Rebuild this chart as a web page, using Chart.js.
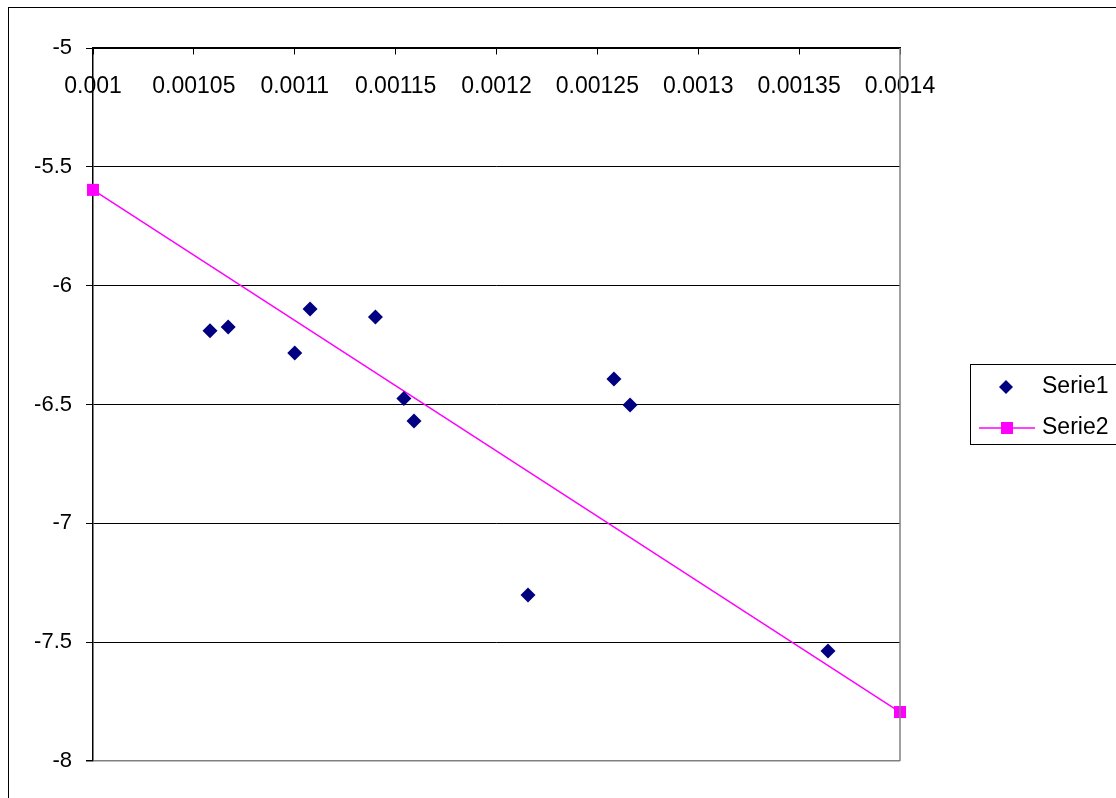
<!DOCTYPE html>
<html>
<head>
<meta charset="utf-8">
<style>
  body { margin: 0; background: #fff; }
  #wrap { width: 1116px; height: 798px; }
</style>
<script src="https://cdn.jsdelivr.net/npm/chart.js@4.4.0/dist/chart.umd.min.js"></script>
</head>
<body>
<div id="wrap"><canvas id="myChart" width="1116" height="798"></canvas></div>
<script>
// Serie1 - measured points
var serie1X = [0.001058, 0.001067, 0.0011, 0.0011076, 0.00114, 0.0011541, 0.0011591, 0.0012156, 0.0012582, 0.0012662, 0.0013643];
var serie1Y = [-6.19, -6.174, -6.283, -6.098, -6.132, -6.475, -6.569, -7.302, -6.393, -6.502, -7.537];
// Serie2 - trend line end points
var serie2X = [0.001, 0.0014];
var serie2Y = [-5.597, -7.794];
var xTicks = [0.001, 0.00105, 0.0011, 0.00115, 0.0012, 0.00125, 0.0013, 0.00135, 0.0014];
var xLabels = ['0.001', '0.00105', '0.0011', '0.00115', '0.0012', '0.00125', '0.0013', '0.00135', '0.0014'];
var yTicks = [-8, -7.5, -7, -6.5, -6, -5.5, -5];
var yLabels = ['-8', '-7.5', '-7', '-6.5', '-6', '-5.5', '-5'];
var seriesNames = ['Serie1', 'Serie2'];

var FONT = 'Liberation Sans, Arial, sans-serif';

function toPoints(xs, ys) {
    var out = [];
    for (var i in xs) {
        out.push({x: xs[i], y: ys[i]});
    }
    return out;
}

// frame, right plot border and the boxed legend
var decorations = {
    id: 'decorations',
    beforeDraw: function (chart) {
        var c = chart.ctx;
        c.save();
        c.strokeStyle = '#000';
        c.lineWidth = 1;
        c.strokeRect(8.5, 7.5, 1300, 1000);
        c.restore();
    },
    afterDraw: function (chart) {
        var c = chart.ctx;
        var a = chart.chartArea;
        c.save();
        c.strokeStyle = '#808080';
        c.lineWidth = 1.5;
        c.beginPath();
        c.moveTo(a.right, a.top);
        c.lineTo(a.right, a.bottom);
        c.stroke();

        // legend
        c.strokeStyle = '#000';
        c.lineWidth = 1;
        c.strokeRect(970.5, 364.5, 160, 80);
        c.fillStyle = '#000080';
        c.beginPath();
        c.moveTo(1006, 380);
        c.lineTo(1013, 387);
        c.lineTo(1006, 394);
        c.lineTo(999, 387);
        c.closePath();
        c.fill();
        c.strokeStyle = '#ff00ff';
        c.lineWidth = 1.5;
        c.beginPath();
        c.moveTo(979, 428);
        c.lineTo(1035, 428);
        c.stroke();
        c.fillStyle = '#ff00ff';
        c.fillRect(1001, 422, 12, 12);
        c.fillStyle = '#000';
        c.font = '23px ' + FONT;
        c.textBaseline = 'middle';
        c.textAlign = 'left';
        c.fillText(seriesNames[0], 1042, 387);
        c.fillText(seriesNames[1], 1042, 428);
        c.restore();
    }
};

var ctx = document.getElementById('myChart');
var myChart = new Chart(ctx, {
    type: 'scatter',
    data: {
        datasets: [{
            label: seriesNames[0],
            data: toPoints(serie1X, serie1Y),
            pointStyle: 'rectRot',
            pointRadius: 7.5,
            pointHoverRadius: 7.5,
            backgroundColor: '#000080',
            borderColor: '#000080',
            borderWidth: 0,
            showLine: false,
            clip: false
        }, {
            label: seriesNames[1],
            data: toPoints(serie2X, serie2Y),
            pointStyle: 'rect',
            pointRadius: 8.5,
            pointHoverRadius: 8.5,
            backgroundColor: '#ff00ff',
            pointBackgroundColor: '#ff00ff',
            borderColor: '#ff00ff',
            pointBorderWidth: 0,
            borderWidth: 1.5,
            showLine: true,
            clip: false
        }]
    },
    options: {
        responsive: false,
        animation: false,
        events: [],
        layout: {padding: {left: 0, top: 48, right: 216, bottom: 37}},
        plugins: {
            legend: {display: false},
            tooltip: {enabled: false}
        },
        scales: {
            x: {
                type: 'linear',
                position: {y: -5},
                min: 0.001,
                max: 0.0014,
                afterBuildTicks: function (scale) {
                    scale.ticks = xTicks.map(function (v) { return {value: v}; });
                },
                ticks: {
                    autoSkip: false,
                    maxRotation: 0,
                    padding: 19,
                    color: '#000',
                    font: {family: FONT, size: 23},
                    callback: function (v, i) { return xLabels[i]; }
                },
                grid: {drawOnChartArea: false, tickLength: 6, tickColor: '#000', tickWidth: 1},
                border: {color: '#000', width: 1.5}
            },
            y: {
                type: 'linear',
                position: 'left',
                min: -8,
                max: -5,
                afterBuildTicks: function (scale) {
                    scale.ticks = yTicks.map(function (v) { return {value: v}; });
                },
                afterFit: function (scale) {
                    scale.width = 93;
                },
                ticks: {
                    padding: 14,
                    color: '#000',
                    font: {family: FONT, size: 22},
                    callback: function (v, i) { return yLabels[i]; }
                },
                grid: {
                    color: function (c) { return c.tick && c.tick.value === -8 ? '#808080' : '#000'; },
                    lineWidth: function (c) { return c.tick && c.tick.value === -8 ? 1.5 : 1; },
                    tickLength: 7,
                    tickColor: '#000'
                },
                border: {color: '#000', width: 1.5}
            }
        }
    },
    plugins: [decorations]
});
</script>
</body>
</html>
